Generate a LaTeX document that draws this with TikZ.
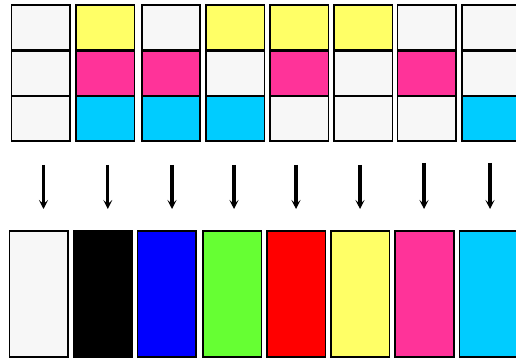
\documentclass[tikz,border=0pt]{standalone}
\usetikzlibrary{arrows.meta}
\definecolor{cw}{HTML}{F7F7F7}
\definecolor{cy}{HTML}{FFFF66}
\definecolor{cm}{HTML}{FF3399}
\definecolor{cc}{HTML}{00CCFF}
\definecolor{cb}{HTML}{0000FF}
\definecolor{cg}{HTML}{66FF33}
\definecolor{cr}{HTML}{FF0000}
\definecolor{ck}{HTML}{000000}
\tikzset{
  cell/.style={draw=black, line width=1.8pt, rectangle, anchor=north west, inner sep=0pt, outer sep=0pt, minimum width=58.5pt, minimum height=45pt},
  bar/.style={draw=black, line width=1.8pt, rectangle, anchor=north west, inner sep=0pt, outer sep=0pt, minimum width=58.5pt, minimum height=126pt},
  mixarrow/.style={line width=3.3pt, -{Stealth[length=9pt,width=9pt,inset=4pt]}}
}
\begin{document}
\begin{tikzpicture}[x=1pt,y=-1pt]
\useasboundingbox (0,0) rectangle (516,358);
\clip (0,0) rectangle (516,358);
\fill[white] (0,0) rectangle (516,358);
% top stacks: column index, x, top, middle, bottom colours
\foreach \i/\x/\a/\b/\c in {1/11.5/cw/cw/cw, 2/76/cy/cm/cc, 3/141.7/cw/cm/cc, 4/206/cy/cw/cc, 5/270/cy/cm/cw, 6/334/cy/cw/cw, 7/397.5/cw/cm/cw, 8/461.8/cw/cw/cc}{
  \node[cell, fill=\a] (t\i) at (\x,5.3) {};
  \node[cell, fill=\b, minimum height=44pt] (m\i) at (\x,51.5) {};
  \node[cell, fill=\c] (u\i) at (\x,95.8) {};
}
% bottom bars
\foreach \i/\x/\f in {1/9.5/cw, 2/73.5/ck, 3/137.5/cb, 4/203/cg, 5/267/cr, 6/331/cy, 7/395.3/cm, 8/459.5/cc}{
  \node[bar, fill=\f] (r\i) at (\x,231) {};
}
% arrows
\foreach \i/\x/\s in {1/43.5/165, 2/107.8/165, 3/172/165, 4/234/165, 5/296/165, 6/360/165, 7/424/163, 8/490/163}{
  \coordinate (s\i) at (\x,\s);
  \coordinate (e\i) at (\x,209);
  \draw[mixarrow] (s\i) -- (e\i);
}
\end{tikzpicture}
\end{document}
